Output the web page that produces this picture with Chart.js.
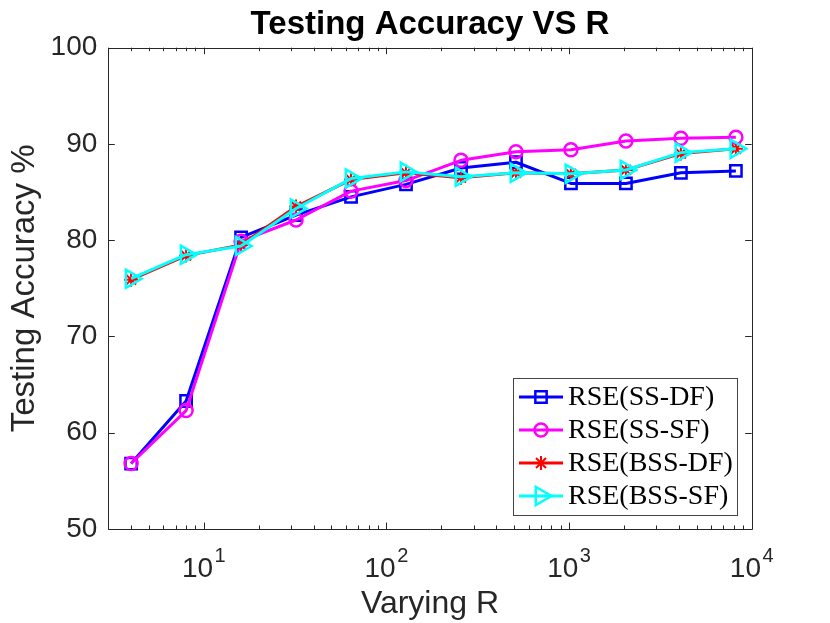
<!DOCTYPE html>
<html>
<head>
<meta charset="utf-8">
<script src="https://cdn.jsdelivr.net/npm/chart.js@4.4.0/dist/chart.umd.min.js"></script>
<style>
html,body{margin:0;padding:0;background:#ffffff;}
#wrap{width:830px;height:623px;}
</style>
</head>
<body>
<div id="wrap"><canvas id="c" width="830" height="623"></canvas></div>
<script>
// ---- data ----
const R_VALUES = [4, 8, 16, 32, 64, 128, 256, 512, 1024, 2048, 4096, 8192];
const SS_DF  = [56.8, 63.3, 80.3, 82.6, 84.5, 85.8, 87.5, 88.1, 85.9, 85.9, 87.0, 87.2];
const SS_SF  = [56.8, 62.3, 79.9, 82.1, 85.1, 86.2, 88.3, 89.2, 89.4, 90.3, 90.6, 90.7];
const BSS_DF = [75.9, 78.4, 79.5, 83.5, 86.3, 87.0, 86.5, 87.0, 86.9, 87.3, 89.0, 89.5];
const BSS_SF = [76.0, 78.5, 79.4, 83.3, 86.4, 87.1, 86.6, 87.0, 86.9, 87.3, 89.1, 89.5];
const SERIES_LABELS = ['RSE(SS-DF)', 'RSE(SS-SF)', 'RSE(BSS-DF)', 'RSE(BSS-SF)'];
const TITLE_TEXT = 'Testing Accuracy VS R';
const X_MAJOR_TICKS = [10, 100, 1000, 10000];
const X_TICK_BASE = ['10', '10', '10', '10'];
const X_TICK_EXP = ['1', '2', '3', '4'];
const Y_TICKS = [50, 60, 70, 80, 90, 100];
const X_MIN = 3, X_MAX = 10000, Y_MIN = 50, Y_MAX = 100;

const AXIS_COLOR = '#262626';
const SANS = '"Liberation Sans", Arial, Helvetica, sans-serif';
const SERIF = '"Liberation Serif", "Times New Roman", serif';

// minor tick values for log axis
const X_MINOR_TICKS = [];
for (const d of [1, 10, 100, 1000]) {
  for (let k = 2; k <= 9; k++) {
    const v = k * d;
    if (v >= X_MIN && v <= X_MAX) X_MINOR_TICKS.push(v);
  }
}

const toPoints = (ys) => R_VALUES.map((x, i) => ({x: x, y: ys[i]}));

Chart.defaults.font.family = SANS;
Chart.defaults.color = AXIS_COLOR;

const matlabAxes = {
  id: 'matlabAxes',
  beforeDatasetsDraw(chart) {
    const {ctx, chartArea: a, scales: {x, y}} = chart;
    ctx.save();
    // title centred over the axes
    ctx.fillStyle = '#000000';
    ctx.font = 'bold 33px ' + SANS;
    ctx.textAlign = 'center';
    ctx.textBaseline = 'alphabetic';
    ctx.fillText(TITLE_TEXT, (a.left + a.right) / 2, 34);

    ctx.strokeStyle = AXIS_COLOR;
    ctx.lineWidth = 1;
    ctx.beginPath();
    ctx.rect(Math.round(a.left) + 0.5, Math.round(a.top) + 0.5,
             Math.round(a.right) - Math.round(a.left), Math.round(a.bottom) - Math.round(a.top));
    ctx.stroke();
    const MAJ = 6.5, MIN = 3.5;
    ctx.beginPath();
    for (const v of X_MAJOR_TICKS) {
      const px = Math.round(x.getPixelForValue(v)) + 0.5;
      ctx.moveTo(px, a.bottom); ctx.lineTo(px, a.bottom - MAJ);
      ctx.moveTo(px, a.top); ctx.lineTo(px, a.top + MAJ);
    }
    for (const v of X_MINOR_TICKS) {
      const px = Math.round(x.getPixelForValue(v)) + 0.5;
      ctx.moveTo(px, a.bottom); ctx.lineTo(px, a.bottom - MIN);
      ctx.moveTo(px, a.top); ctx.lineTo(px, a.top + MIN);
    }
    for (const v of Y_TICKS) {
      const py = Math.round(y.getPixelForValue(v)) + 0.5;
      ctx.moveTo(a.left, py); ctx.lineTo(a.left + MAJ, py);
      ctx.moveTo(a.right, py); ctx.lineTo(a.right - MAJ, py);
    }
    ctx.stroke();
    // x tick labels with superscript exponents
    ctx.fillStyle = AXIS_COLOR;
    ctx.textBaseline = 'alphabetic';
    ctx.textAlign = 'left';
    X_MAJOR_TICKS.forEach((v, i) => {
      const px = x.getPixelForValue(v);
      ctx.font = '28px ' + SANS;
      const w1 = ctx.measureText(X_TICK_BASE[i]).width;
      ctx.font = '20px ' + SANS;
      const w2 = ctx.measureText(X_TICK_EXP[i]).width;
      const gap = 1.5;
      const start = px - (w1 + gap + w2) / 2;
      ctx.font = '28px ' + SANS;
      ctx.fillText(X_TICK_BASE[i], start, a.bottom + 48);
      ctx.font = '20px ' + SANS;
      ctx.fillText(X_TICK_EXP[i], start + w1 + gap, a.bottom + 33);
    });
    ctx.restore();
  },
  afterDatasetsDraw(chart) {
    const {ctx, chartArea: a} = chart;
    const W = 224, H = 137;
    const L = a.right - 14.7 - W, T = a.bottom - 14 - H;
    ctx.save();
    ctx.fillStyle = '#ffffff';
    ctx.fillRect(L, T, W, H);
    ctx.strokeStyle = '#444444';
    ctx.lineWidth = 1;
    ctx.strokeRect(Math.round(L) + 0.5, Math.round(T) + 0.5, Math.round(W), Math.round(H));
    chart.data.datasets.forEach((ds, i) => {
      const cy = T + 19 + i * 33;
      ctx.strokeStyle = ds.borderColor;
      ctx.lineWidth = ds.borderWidth;
      ctx.beginPath();
      ctx.moveTo(L + 6, cy); ctx.lineTo(L + 50, cy);
      ctx.stroke();
      ctx.fillStyle = 'rgba(0,0,0,0)';
      ctx.strokeStyle = ds.pointBorderColor;
      ctx.lineWidth = ds.pointBorderWidth;
      Chart.helpers.drawPoint(ctx, {
        pointStyle: ds.pointStyle,
        rotation: ds.pointRotation || 0,
        radius: ds.pointRadius,
        borderWidth: ds.pointBorderWidth
      }, L + 28, cy);
      ctx.fillStyle = '#000000';
      ctx.font = '28px ' + SERIF;
      ctx.textBaseline = 'middle';
      ctx.textAlign = 'left';
      ctx.fillText(ds.label, L + 55, cy + 1);
    });
    ctx.restore();
  }
};

const mk = (label, data, color, style, radius, rot, order, pbw) => ({
  label: label,
  data: toPoints(data),
  borderColor: color,
  backgroundColor: color,
  borderWidth: 3,
  pointStyle: style,
  pointRadius: radius,
  pointHoverRadius: radius,
  pointRotation: rot,
  pointBorderColor: color,
  pointBackgroundColor: 'rgba(0,0,0,0)',
  pointBorderWidth: pbw,
  borderJoinStyle: 'round',
  tension: 0,
  order: order,
  clip: false
});

new Chart(document.getElementById('c'), {
  type: 'line',
  data: {
    datasets: [
      mk(SERIES_LABELS[0], SS_DF, '#0000ff', 'rect', 8, 0, 4, 2.5),
      mk(SERIES_LABELS[1], SS_SF, '#ff00ff', 'circle', 6.5, 0, 3, 2.5),
      mk(SERIES_LABELS[2], BSS_DF, '#ff0000', 'star', 7, 0, 2, 2),
      mk(SERIES_LABELS[3], BSS_SF, '#00ffff', 'triangle', 10.5, 90, 1, 2.5)
    ]
  },
  options: {
    responsive: false,
    animation: false,
    devicePixelRatio: 1,
    layout: {padding: {left: 0, right: 78.3, top: 47.7, bottom: 0}},
    plugins: {
      legend: {display: false},
      tooltip: {enabled: false},
      title: {display: false}
    },
    scales: {
      x: {
        type: 'logarithmic',
        min: X_MIN,
        max: X_MAX,
        grid: {display: false, drawTicks: false},
        border: {display: false},
        ticks: {display: false},
        afterBuildTicks: (s) => { s.ticks = X_MAJOR_TICKS.map(v => ({value: v})); },
        afterFit: (s) => { s.height = 94; },
        title: {
          display: true,
          text: 'Varying R',
          color: AXIS_COLOR,
          font: {size: 32, family: SANS, lineHeight: 1.2},
          padding: {top: 0, bottom: 0}
        }
      },
      y: {
        min: Y_MIN,
        max: Y_MAX,
        grid: {display: false, drawTicks: false},
        border: {display: false},
        afterBuildTicks: (s) => { s.ticks = Y_TICKS.map(v => ({value: v})); },
        afterFit: (s) => { s.width = 108.3; },
        ticks: {
          color: AXIS_COLOR,
          font: {size: 28, family: SANS},
          padding: 11
        },
        title: {
          display: true,
          text: 'Testing Accuracy %',
          color: AXIS_COLOR,
          font: {size: 33, family: SANS, lineHeight: 1.2},
          padding: {top: 5, bottom: 0}
        }
      }
    }
  },
  plugins: [matlabAxes]
});
</script>
</body>
</html>
